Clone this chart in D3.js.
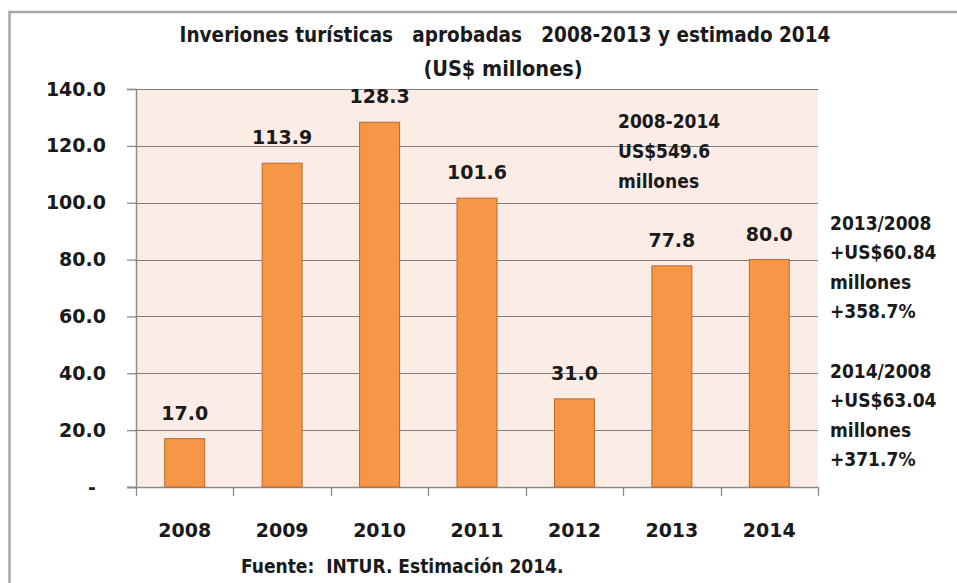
<!DOCTYPE html>
<html>
<head>
<meta charset="utf-8">
<script src="https://cdn.jsdelivr.net/npm/d3@7"></script>
<style>
  html, body { margin: 0; padding: 0; background: #ffffff; }
  svg { display: block; }
</style>
</head>
<body>
<svg id="chart" width="957" height="583"></svg>
<script>
// ---- data ----
const years = ["2008", "2009", "2010", "2011", "2012", "2013", "2014"];
const values = [17.0, 113.9, 128.3, 101.6, 31.0, 77.8, 80.0];
const yTicks = [0, 20, 40, 60, 80, 100, 120, 140];
const titleLines = ["Inveriones turísticas   aprobadas   2008-2013 y estimado 2014", "(US$ millones)"];
const totalNote = ["2008-2014", "US$549.6", "millones"];
const note2013 = ["2013/2008", "+US$60.84", "millones", "+358.7%"];
const note2014 = ["2014/2008", "+US$63.04", "millones", "+371.7%"];
const sourceText = "Fuente:  INTUR. Estimación 2014.";

// ---- layout ----
const W = 957, H = 583;
const plot = { left: 136, right: 818, top: 89, bottom: 487 };
const numFont = "'DejaVu Sans', sans-serif";
const txtFont = "'DejaVu Sans Condensed', 'DejaVu Sans', sans-serif";
const textColor = "#1a1a1a";

const svg = d3.select("#chart");

// outer frame
svg.append("rect")
  .attr("x", 9.5).attr("y", 12)
  .attr("width", 1000).attr("height", 1000)
  .attr("fill", "#ffffff")
  .attr("stroke", "#a6a6a6").attr("stroke-width", 2.5);

const x = d3.scaleBand().domain(years).range([plot.left, plot.right]).paddingInner(0.59).paddingOuter(0.295);
const xb = d3.scaleBand().domain(years).range([plot.left, plot.right]);
const y = d3.scaleLinear().domain([0, 140]).range([plot.bottom, plot.top]);

// plot background
svg.append("rect")
  .attr("x", plot.left).attr("y", plot.top)
  .attr("width", plot.right - plot.left).attr("height", plot.bottom - plot.top)
  .attr("fill", "#fcece6");

// gridlines
svg.append("g").selectAll("line").data(yTicks.filter(d => d > 0)).join("line")
  .attr("x1", plot.left).attr("x2", plot.right)
  .attr("y1", d => Math.round(y(d)) + 0.5).attr("y2", d => Math.round(y(d)) + 0.5)
  .attr("stroke", "#7f7f7f").attr("stroke-width", 1.2);

// y axis
const yAxis = d3.axisLeft(y).tickValues(yTicks).tickSize(9).tickPadding(21)
  .tickFormat(d => d === 0 ? "-" : d3.format(".1f")(d));
const gy = svg.append("g").attr("transform", `translate(${plot.left},0)`).call(yAxis);
gy.select(".domain").attr("stroke", "#8a8a8a").attr("stroke-width", 1.5);
gy.selectAll(".tick line").attr("stroke", "#8a8a8a").attr("stroke-width", 1.3);
gy.selectAll(".tick text")
  .attr("font-family", numFont).attr("font-weight", "bold").attr("font-size", 19)
  .attr("fill", textColor)
  .attr("dx", d => d === 0 ? -10 : 0);

// x axis (ticks at band boundaries)
svg.append("line")
  .attr("x1", plot.left - 9).attr("x2", plot.right)
  .attr("y1", plot.bottom + 0.5).attr("y2", plot.bottom + 0.5)
  .attr("stroke", "#8a8a8a").attr("stroke-width", 1.5);
const boundaries = years.map(d => xb(d)).concat([plot.right]);
svg.append("g").selectAll("line").data(boundaries).join("line")
  .attr("x1", d => Math.round(d) + 0.5).attr("x2", d => Math.round(d) + 0.5)
  .attr("y1", plot.bottom).attr("y2", plot.bottom + 9)
  .attr("stroke", "#8a8a8a").attr("stroke-width", 1.3);

svg.append("g").selectAll("text").data(years).join("text")
  .attr("x", d => xb(d) + xb.bandwidth() / 2)
  .attr("y", 537)
  .attr("text-anchor", "middle")
  .attr("font-family", numFont).attr("font-weight", "bold").attr("font-size", 19)
  .attr("fill", textColor)
  .text(d => d);

// bars
svg.append("g").selectAll("rect").data(values).join("rect")
  .attr("x", (d, i) => x(years[i]))
  .attr("y", d => y(d))
  .attr("width", x.bandwidth())
  .attr("height", d => y(0) - y(d))
  .attr("fill", "#f79646")
  .attr("stroke", "#b86a30").attr("stroke-width", 1);

// data labels
svg.append("g").selectAll("text").data(values).join("text")
  .attr("x", (d, i) => xb(years[i]) + xb.bandwidth() / 2)
  .attr("y", d => y(d) - 19)
  .attr("text-anchor", "middle")
  .attr("font-family", numFont).attr("font-weight", "bold").attr("font-size", 19)
  .attr("fill", textColor)
  .text(d => d3.format(".1f")(d));

// title
svg.append("text").attr("x", 505).attr("y", 42)
  .attr("text-anchor", "middle")
  .attr("font-family", txtFont).attr("font-weight", "bold").attr("font-size", 20.5)
  .attr("fill", textColor)
  .style("white-space", "pre")
  .text(titleLines[0]);
svg.append("text").attr("x", 503).attr("y", 76)
  .attr("text-anchor", "middle")
  .attr("font-family", txtFont).attr("font-weight", "bold").attr("font-size", 21.5)
  .attr("fill", textColor)
  .text(titleLines[1]);

// annotations
function block(lines, x0, y0, step) {
  svg.append("g").selectAll("text").data(lines).join("text")
    .attr("x", x0).attr("y", (d, i) => y0 + i * step)
    .attr("font-family", txtFont).attr("font-weight", "bold").attr("font-size", 19)
    .attr("fill", textColor)
    .text(d => d);
}
block(totalNote, 618, 128, 30);
block(note2013, 830, 230, 29.3);
block(note2014, 830, 378, 29.3);

// source
svg.append("text").attr("x", 241).attr("y", 573)
  .attr("font-family", txtFont).attr("font-weight", "bold").attr("font-size", 19)
  .attr("fill", textColor)
  .style("white-space", "pre")
  .text(sourceText);
</script>
</body>
</html>
